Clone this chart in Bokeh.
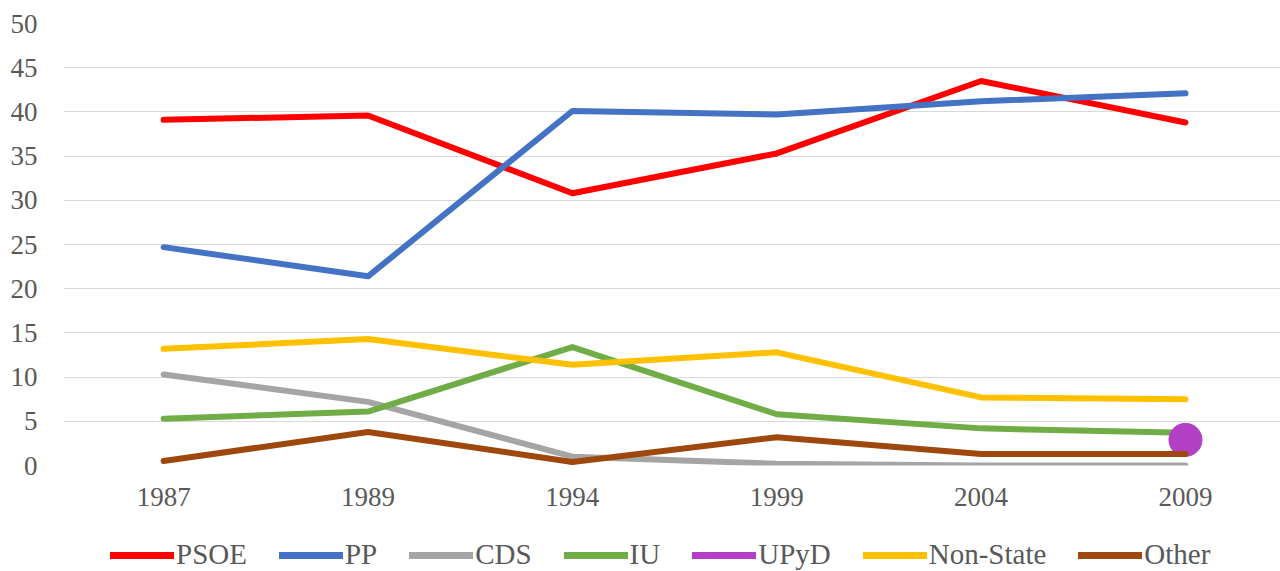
from bokeh.plotting import figure
from bokeh.models import Range1d, FixedTicker, Legend, LegendItem, ColumnDataSource
from bokeh.layouts import column
from bokeh.embed import file_html
from bokeh.resources import INLINE
import math

years = ["1987", "1989", "1994", "1999", "2004", "2009"]
psoe = [39.1, 39.6, 30.8, 35.3, 43.5, 38.8]
pp = [24.7, 21.4, 40.1, 39.7, 41.2, 42.1]
cds = [10.3, 7.2, 1.0, 0.2, 0.0, 0.0]
iu = [5.3, 6.1, 13.4, 5.8, 4.2, 3.7]
upyd = [math.nan, math.nan, math.nan, math.nan, math.nan, 2.9]
non_state = [13.2, 14.3, 11.4, 12.8, 7.7, 7.5]
other = [0.5, 3.8, 0.4, 3.2, 1.3, 1.3]
y_ticks = [0, 5, 10, 15, 20, 25, 30, 35, 40, 45, 50]

FONT = "Liberation Serif"
TXT = "#595959"

xs = list(range(len(years)))

p = figure(width=1280, height=527, output_backend="svg", toolbar_location=None,
           x_range=Range1d(-0.49, 5.465), y_range=Range1d(0, 50))
p.min_border_left = 63
p.min_border_right = 0
p.min_border_top = 23
p.min_border_bottom = 62
p.outline_line_color = None
p.background_fill_color = "white"
p.border_fill_color = "white"

p.xgrid.grid_line_color = None
p.ygrid.grid_line_color = "#d9d9d9"
p.ygrid.grid_line_width = 1
p.yaxis.ticker = FixedTicker(ticks=y_ticks)
p.xaxis.ticker = FixedTicker(ticks=xs)
p.xaxis.major_label_overrides = {i: y for i, y in enumerate(years)}

for ax in (p.xaxis[0], p.yaxis[0]):
    ax.axis_line_color = None
    ax.major_tick_line_color = None
    ax.minor_tick_line_color = None
    ax.major_label_text_font = FONT
    ax.major_label_text_font_size = "27px"
    ax.major_label_text_color = TXT
p.yaxis.major_label_standoff = 20
p.xaxis.major_label_standoff = 16

series = [
    ("PSOE", psoe, "#FF0000"),
    ("PP", pp, "#4472C4"),
    ("CDS", cds, "#A5A5A5"),
    ("IU", iu, "#70AD47"),
    ("UPyD", upyd, "#B23FC6"),
    ("Non-State", non_state, "#FFC000"),
    ("Other", other, "#9E480E"),
]

# legend strip below the chart (its frame is aligned with the chart's frame)
lf = figure(width=1280, height=44, output_backend="svg", toolbar_location=None,
            x_range=Range1d(0, 1), y_range=Range1d(0, 1),
            x_axis_type=None, y_axis_type=None)
lf.min_border_left = 0
lf.min_border_right = 0
lf.min_border_top = 0
lf.min_border_bottom = 0
lf.outline_line_color = None
lf.grid.grid_line_color = None

items = []
for name, vals, col in series:
    src = ColumnDataSource(dict(x=xs, y=vals))
    p.line("x", "y", source=src, line_color=col, line_width=6,
           line_join="round", line_cap="round")
    if name == "UPyD":
        p.scatter("x", "y", source=src, size=33, fill_color=col, line_color=col)
    proxy = lf.line(x=[math.nan], y=[math.nan], line_color=col, line_width=7,
                    line_cap="round")
    items.append(LegendItem(label=name, renderers=[proxy]))

legend = Legend(items=items, orientation="horizontal", location=(47, 0),
                glyph_width=64, glyph_height=26, label_standoff=2, spacing=32,
                padding=0, margin=0, border_line_alpha=0, background_fill_alpha=0,
                label_text_font=FONT, label_text_font_size="29px",
                label_text_color=TXT, label_height=26)
lf.add_layout(legend, "center")

layout = column(p, lf, spacing=0)
open("out.html", "w").write(file_html(layout, INLINE))
